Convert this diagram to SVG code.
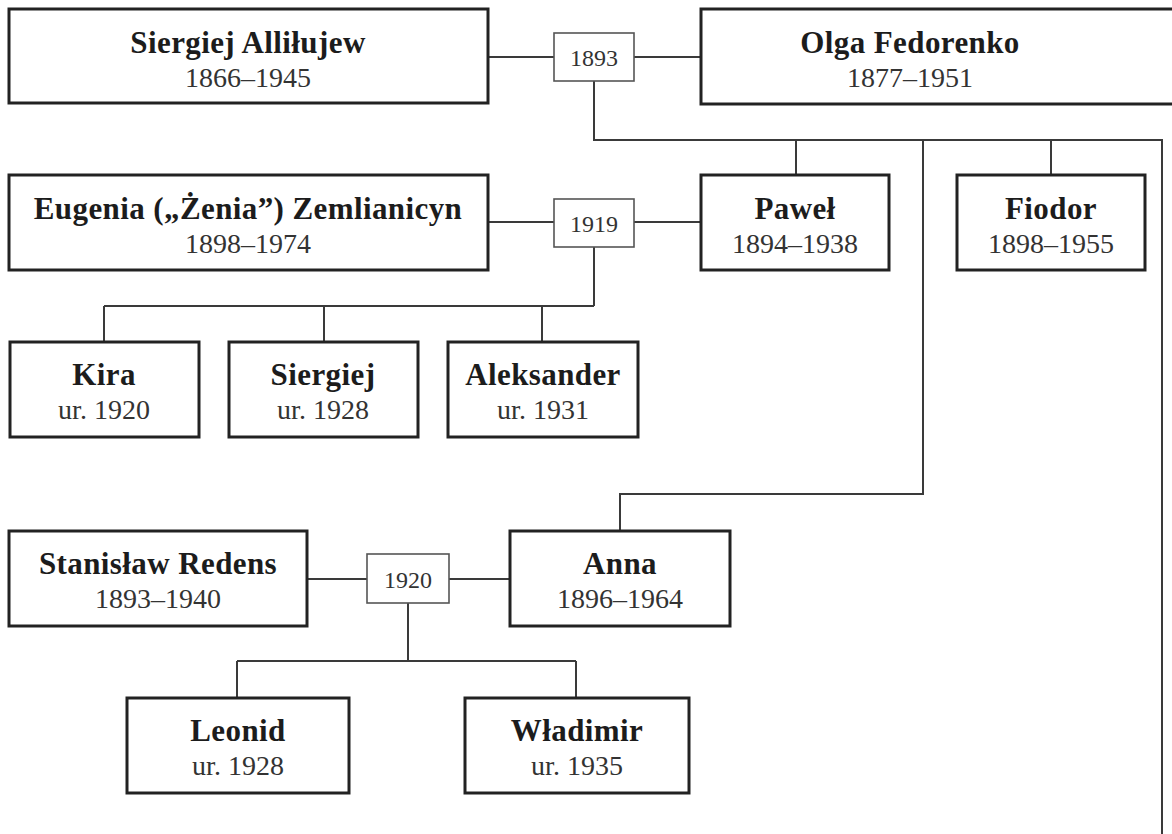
<svg xmlns="http://www.w3.org/2000/svg" width="1172" height="834" viewBox="0 0 1172 834">
  <style>
    .box { fill: #ffffff; stroke: #222222; stroke-width: 3; }
    .wed { fill: #ffffff; stroke: #555555; stroke-width: 1.6; }
    .name { font-family: "Liberation Serif", "Times New Roman", serif; font-weight: bold; font-size: 31px; letter-spacing: 0.4px; fill: #1c1c1c; text-anchor: middle; }
    .date { font-family: "Liberation Serif", "Times New Roman", serif; font-size: 28px; fill: #333333; text-anchor: middle; }
    .year { font-family: "Liberation Serif", "Times New Roman", serif; font-size: 24px; fill: #333333; text-anchor: middle; }
    .link { fill: none; stroke: #3a3a3a; stroke-width: 2; }
  </style>

  <rect width="1172" height="834" fill="#ffffff"/>

  <!-- connectors -->
  <g id="connectors" class="link">
    <!-- first marriage and its children -->
    <path d="M488 57 H554 M634 57 H701"/>
    <path d="M594 81 V140 H1162 V834"/>
    <path d="M796 140 V175"/>
    <path d="M1051 140 V175"/>
    <path d="M923 140 V494 H620 V531"/>
    <!-- Paweł and Eugenia -->
    <path d="M488 222 H554 M634 222 H701"/>
    <path d="M594 247 V306"/>
    <path d="M104 306 H594"/>
    <path d="M104 306 V342 M324 306 V342 M542 306 V342"/>
    <!-- Anna and Stanisław -->
    <path d="M307 579 H367 M449 579 H510"/>
    <path d="M408 603 V661"/>
    <path d="M237 661 H576"/>
    <path d="M237 661 V698 M576 661 V698"/>
  </g>

  <!-- generation 1 -->
  <g id="siergiej-allilujew">
    <rect class="box" x="9" y="9" width="479" height="94"/>
    <text class="name" x="248" y="53">Siergiej Alliłujew</text>
    <text class="date" x="248" y="87">1866–1945</text>
  </g>
  <g id="marriage-1893">
    <rect class="wed" x="554" y="33" width="80" height="48"/>
    <text class="year" x="594" y="66">1893</text>
  </g>
  <g id="olga-fedorenko">
    <rect class="box" x="701" y="9" width="482" height="95"/>
    <text class="name" x="910" y="53">Olga Fedorenko</text>
    <text class="date" x="910" y="87">1877–1951</text>
  </g>

  <!-- generation 2 -->
  <g id="eugenia-zemlianicyn">
    <rect class="box" x="9" y="175" width="479" height="95"/>
    <text class="name" x="248" y="219">Eugenia („Żenia”) Zemlianicyn</text>
    <text class="date" x="248" y="253">1898–1974</text>
  </g>
  <g id="marriage-1919">
    <rect class="wed" x="554" y="199" width="80" height="48"/>
    <text class="year" x="594" y="232">1919</text>
  </g>
  <g id="pawel">
    <rect class="box" x="701" y="175" width="188" height="95"/>
    <text class="name" x="795" y="219">Paweł</text>
    <text class="date" x="795" y="253">1894–1938</text>
  </g>
  <g id="fiodor">
    <rect class="box" x="957" y="175" width="188" height="95"/>
    <text class="name" x="1051" y="219">Fiodor</text>
    <text class="date" x="1051" y="253">1898–1955</text>
  </g>

  <!-- children of Paweł -->
  <g id="kira">
    <rect class="box" x="10" y="342" width="189" height="95"/>
    <text class="name" x="104" y="385">Kira</text>
    <text class="date" x="104" y="419">ur. 1920</text>
  </g>
  <g id="siergiej">
    <rect class="box" x="229" y="342" width="189" height="95"/>
    <text class="name" x="323" y="385">Siergiej</text>
    <text class="date" x="323" y="419">ur. 1928</text>
  </g>
  <g id="aleksander">
    <rect class="box" x="448" y="342" width="190" height="95"/>
    <text class="name" x="543" y="385">Aleksander</text>
    <text class="date" x="543" y="419">ur. 1931</text>
  </g>

  <!-- Anna's family -->
  <g id="stanislaw-redens">
    <rect class="box" x="9" y="531" width="298" height="95"/>
    <text class="name" x="158" y="574">Stanisław Redens</text>
    <text class="date" x="158" y="608">1893–1940</text>
  </g>
  <g id="marriage-1920">
    <rect class="wed" x="367" y="554" width="82" height="49"/>
    <text class="year" x="408" y="588">1920</text>
  </g>
  <g id="anna">
    <rect class="box" x="510" y="531" width="220" height="95"/>
    <text class="name" x="620" y="574">Anna</text>
    <text class="date" x="620" y="608">1896–1964</text>
  </g>
  <g id="leonid">
    <rect class="box" x="127" y="698" width="222" height="95"/>
    <text class="name" x="238" y="741">Leonid</text>
    <text class="date" x="238" y="775">ur. 1928</text>
  </g>
  <g id="wladimir">
    <rect class="box" x="465" y="698" width="224" height="95"/>
    <text class="name" x="577" y="741">Władimir</text>
    <text class="date" x="577" y="775">ur. 1935</text>
  </g>
</svg>
